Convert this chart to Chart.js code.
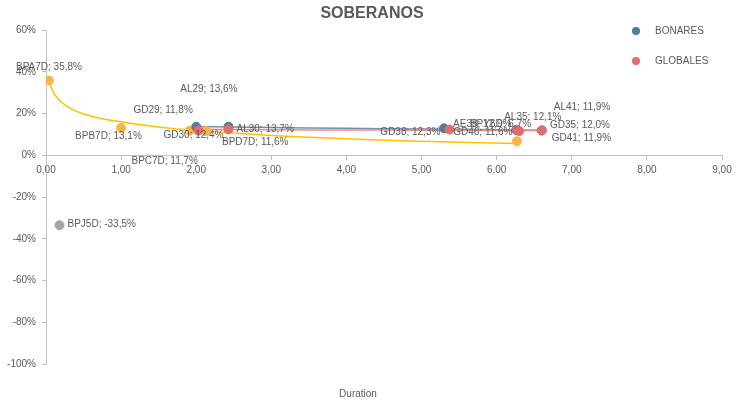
<!DOCTYPE html>
<html lang="es">
<head>
<meta charset="UTF-8">
<title>Soberanos</title>
<script src="https://cdn.jsdelivr.net/npm/chart.js@4.4.1/dist/chart.umd.min.js"></script>
<style>
  html, body { margin: 0; padding: 0; background: #fff; }
</style>
</head>
<body>
<canvas id="chart" width="738" height="400"></canvas>
<script>
// --- data (duration, TIR %) ---
const bonaresNames = ['AL29', 'AL30', 'AE38', 'AL35', 'AL41'];
const bonaresDur   = [2.00, 2.43, 5.30, 6.26, 6.60];
const bonaresTir   = [13.6, 13.7, 12.9, 12.1, 11.9];

const globalesNames = ['GD29', 'GD30', 'GD38', 'GD35', 'GD46', 'GD41'];
const globalesDur   = [2.03, 2.43, 5.37, 6.27, 6.30, 6.60];
const globalesTir   = [11.8, 12.4, 12.3, 12.0, 11.6, 11.9];

const boprealNames = ['BPA7D', 'BPB7D', 'BPC7D', 'BPD7D', 'BPY6D'];
const boprealDur   = [0.04, 1.00, 1.91, 2.13, 6.27];
const boprealTir   = [35.8, 13.1, 11.7, 11.6, 6.7];

const bpjNames = ['BPJ5D'];
const bpjDur   = [0.18];
const bpjTir   = [-33.5];

// trend lines as seen on the picture
const bonaresTrendDur = [2.0, 3.0, 4.0, 5.0, 6.0, 6.6];
const bonaresTrendTir = [13.8, 13.3, 12.9, 12.6, 12.2, 12.0];
const globalesTrendDur = [2.03, 3.0, 4.0, 5.0, 6.0, 6.6];
const globalesTrendTir = [12.4, 12.2, 12.1, 12.0, 11.9, 11.8];
const boprealTrendDur = [0.04, 0.1, 0.2, 0.35, 0.5, 0.75, 1.0, 1.5, 2.0, 3.0, 4.0, 5.0, 6.27];
const boprealTrendTir = [35.8, 30.0, 25.5, 22.0, 19.8, 17.5, 16.0, 13.5, 11.8, 9.5, 7.9, 6.7, 5.6];

const xTicks = [0, 1, 2, 3, 4, 5, 6, 7, 8, 9];
const yTicks = [60, 40, 20, 0, -20, -40, -60, -80, -100];

const toPoints = (xs, ys) => xs.map((x, i) => ({ x: x, y: ys[i] }));

// where each data label sits relative to its point (px)
const labelOffsets = {
  BPA7D: [-33, -13], BPB7D: [-46, 8], BPC7D: [-58, 30], BPD7D: [16, 11], BPY6D: [-47, -17],
  AL29: [-16, -38], AL30: [8, 3], AE38: [9, -4], AL35: [-12, -13], AL41: [12, -23],
  GD29: [-65, -20], GD30: [-65, 6], GD38: [-69, 3], GD35: [33, -5], GD46: [-66, 1], GD41: [10, 8],
  BPJ5D: [8, -1]
};

const textColor = '#595959';
const axisColor = '#BFBFBF';
const FONT = '"Liberation Sans", Arial, sans-serif';

const decoPlugin = {
  id: 'deco',
  afterDatasetsDraw(chart) {
    const ctx = chart.ctx;
    ctx.save();
    ctx.font = '10px ' + FONT;
    ctx.fillStyle = textColor;
    ctx.textBaseline = 'middle';
    ctx.textAlign = 'left';
    chart.data.datasets.forEach((ds, i) => {
      if (!ds.names) return;
      const meta = chart.getDatasetMeta(i);
      meta.data.forEach((pt, j) => {
        const name = ds.names[j];
        const off = labelOffsets[name] || [6, 0];
        const txt = name + '; ' + ds.data[j].y.toFixed(1).replace('.', ',') + '%';
        ctx.fillText(txt, pt.x + off[0], pt.y + off[1]);
      });
    });

    // title
    ctx.font = 'bold 16px ' + FONT;
    ctx.textAlign = 'center';
    ctx.fillText('SOBERANOS', 372, 14);

    // legend
    ctx.font = '10px ' + FONT;
    ctx.textAlign = 'left';
    [['BONARES', '#507C96', 31], ['GLOBALES', '#E46C6C', 61]].forEach(([t, c, y]) => {
      ctx.beginPath();
      ctx.arc(636, y, 4, 0, Math.PI * 2);
      ctx.fillStyle = c;
      ctx.fill();
      ctx.fillStyle = textColor;
      ctx.fillText(t, 655, y);
    });

    // axis titles
    ctx.textAlign = 'center';
    ctx.fillText('Duration', 358, 394);
    ctx.translate(-3, 188);
    ctx.rotate(-Math.PI / 2);
    ctx.fillText('TIR', 0, 0);
    ctx.restore();
  }
};

const ctx = document.getElementById('chart').getContext('2d');
new Chart(ctx, {
  type: 'scatter',
  data: {
    datasets: [
      {
        label: 'GLOBALES', names: globalesNames,
        data: toPoints(globalesDur, globalesTir),
        backgroundColor: '#E46C6C', borderColor: '#E46C6C',
        pointRadius: 4.5, pointHoverRadius: 4.5
      },
      {
        label: 'BONARES', names: bonaresNames,
        data: toPoints(bonaresDur, bonaresTir),
        backgroundColor: '#507C96', borderColor: '#507C96',
        pointRadius: 4.5, pointHoverRadius: 4.5
      },
      {
        label: 'BOPREAL', names: boprealNames,
        data: toPoints(boprealDur, boprealTir),
        backgroundColor: '#FBB547', borderColor: '#FBB547',
        pointRadius: 4.5, pointHoverRadius: 4.5
      },
      {
        label: 'BPJ5D', names: bpjNames,
        data: toPoints(bpjDur, bpjTir),
        backgroundColor: '#A5A5A5', borderColor: '#A5A5A5',
        pointRadius: 4.5, pointHoverRadius: 4.5
      },
      {
        label: 'Tendencia GLOBALES',
        data: toPoints(globalesTrendDur, globalesTrendTir),
        showLine: true, borderColor: '#EB8C8C', borderWidth: 1.5,
        pointRadius: 0, tension: 0.4
      },
      {
        label: 'Tendencia BONARES',
        data: toPoints(bonaresTrendDur, bonaresTrendTir),
        showLine: true, borderColor: '#6C93AA', borderWidth: 1.5,
        pointRadius: 0, tension: 0.4
      },
      {
        label: 'Tendencia BOPREAL',
        data: toPoints(boprealTrendDur, boprealTrendTir),
        showLine: true, borderColor: '#FFC000', borderWidth: 1.5,
        pointRadius: 0, tension: 0.4
      }
    ]
  },
  options: {
    responsive: false,
    animation: false,
    layout: { padding: { left: 0, top: 30, right: 16, bottom: 36 } },
    plugins: {
      legend: { display: false },
      title: { display: false },
      tooltip: { enabled: false }
    },
    scales: {
      x: {
        type: 'linear', min: 0, max: 9,
        position: { y: 0 },
        afterBuildTicks: s => { s.ticks = xTicks.map(v => ({ value: v })); },
        ticks: {
          color: textColor, font: { size: 10, family: FONT }, padding: 5,
          callback: v => v.toFixed(2).replace('.', ',')
        },
        grid: { drawOnChartArea: false, drawTicks: true, tickLength: 4, color: axisColor },
        border: { color: axisColor }
      },
      y: {
        type: 'linear', min: -100, max: 60, position: 'left',
        afterBuildTicks: s => { s.ticks = yTicks.map(v => ({ value: v })); },
        afterFit: s => { s.width = 46; },
        ticks: {
          color: textColor, font: { size: 10, family: FONT }, padding: 6,
          callback: v => v + '%'
        },
        grid: { drawOnChartArea: false, drawTicks: true, tickLength: 4, color: axisColor },
        border: { color: axisColor }
      }
    }
  },
  plugins: [decoPlugin]
});
</script>
</body>
</html>
